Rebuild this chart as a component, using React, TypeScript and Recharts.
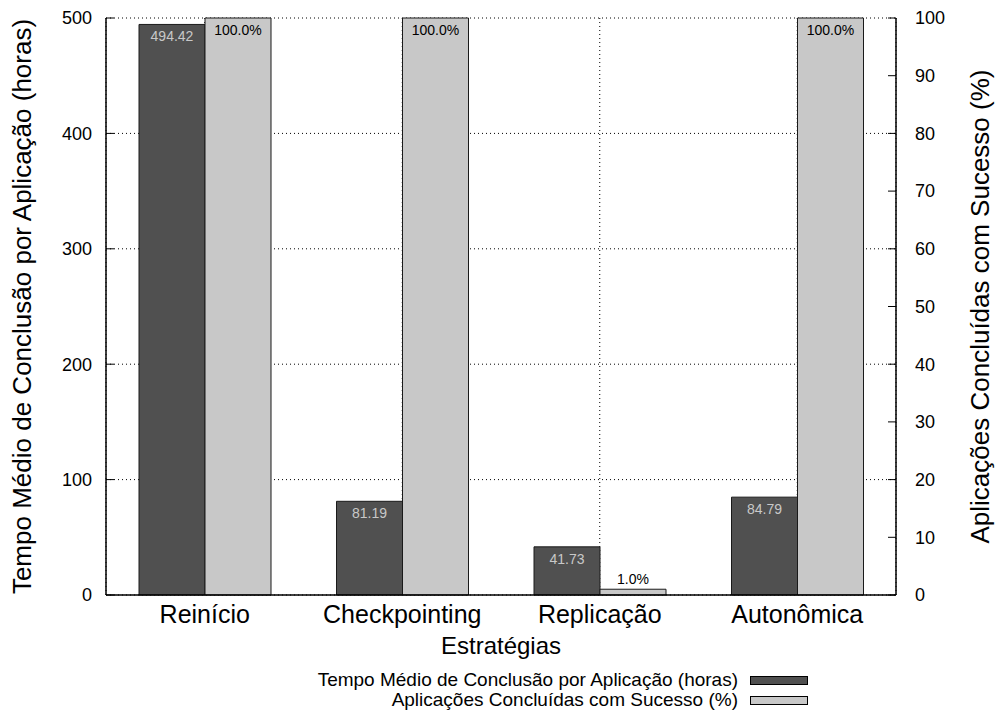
import React from 'react';
import { BarChart, Bar, XAxis, YAxis, CartesianGrid, LabelList } from 'recharts';

const categories = ['Reinício', 'Checkpointing', 'Replicação', 'Autonômica'];
const tempoMedio = [494.42, 81.19, 41.73, 84.79];
const sucesso = [100.0, 100.0, 1.0, 100.0];
const leftTicks = [0, 100, 200, 300, 400, 500];
const rightTicks = [0, 10, 20, 30, 40, 50, 60, 70, 80, 90, 100];

const seriesNames = {
  tempo: 'Tempo Médio de Conclusão por Aplicação (horas)',
  sucesso: 'Aplicações Concluídas com Sucesso (%)',
};
const xTitle = 'Estratégias';

const data = categories.map((name, i) => ({ name, tempo: tempoMedio[i], sucesso: sucesso[i] }));

const FONT = '"Liberation Sans", Arial, Helvetica, sans-serif';
const DARK = '#505050';
const LIGHT = '#c8c8c8';

const DarkLabel = (props: any) => {
  const { x, y, width, value } = props;
  return (
    <text x={x + width / 2} y={y + 12} textAnchor="middle" dominantBaseline="central"
      fontSize={14} fontFamily={FONT} fill="#c8c8c8">
      {Number(value).toFixed(2)}
    </text>
  );
};

const LightLabel = (props: any) => {
  const { x, y, width, value } = props;
  const ty = value >= 50 ? y + 12 : y - 10;
  return (
    <text x={x + width / 2} y={ty} textAnchor="middle" dominantBaseline="central"
      fontSize={14} fontFamily={FONT} fill="#000">
      {Number(value).toFixed(1) + '%'}
    </text>
  );
};

const LeftTitle = (props: any) => {
  const { viewBox } = props;
  const cx = viewBox.x + 22;
  const cy = viewBox.y + viewBox.height / 2;
  return (
    <text x={cx} y={cy} transform={`rotate(-90 ${cx} ${cy})`} textAnchor="middle"
      dominantBaseline="central" fontSize={26} fontFamily={FONT} fill="#000">
      {seriesNames.tempo}
    </text>
  );
};

const RightTitle = (props: any) => {
  const { viewBox } = props;
  const cx = viewBox.x + 84;
  const cy = viewBox.y + viewBox.height / 2;
  return (
    <text x={cx} y={cy} transform={`rotate(-90 ${cx} ${cy})`} textAnchor="middle"
      dominantBaseline="central" fontSize={26} fontFamily={FONT} fill="#000">
      {seriesNames.sucesso}
    </text>
  );
};

const XTitle = (props: any) => {
  const { viewBox } = props;
  const cx = viewBox.x + viewBox.width / 2;
  return (
    <text x={cx} y={viewBox.y + 59} textAnchor="middle" fontSize={24} fontFamily={FONT} fill="#000">
      {xTitle}
    </text>
  );
};

export default function App() {
  return (
    <div style={{ position: 'absolute', left: 0, top: 0, width: 997, height: 711, background: '#fff' }}>
      <BarChart width={997} height={711} data={data}
        margin={{ top: 18, right: 0, bottom: 0, left: 0 }}
        barGap={0} barSize={66}>
        <CartesianGrid yAxisId="left" stroke="#000" strokeWidth={1} strokeDasharray="1 3" />
        <XAxis dataKey="name" xAxisId="bottom" height={116} tickLine={false} tickSize={0} tickMargin={10}
          axisLine={{ stroke: '#000', strokeWidth: 1.5 }}
          tick={{ fontSize: 25, fontFamily: FONT, fill: '#000' }}
          label={<XTitle />} />
        <XAxis dataKey="name" xAxisId="top" orientation="top" height={0} tick={false} tickLine={false}
          axisLine={{ stroke: '#000', strokeWidth: 1.5 }} />
        <YAxis yAxisId="left" width={106} domain={[0, 500]} ticks={leftTicks} interval={0}
          tickSize={-8} tickMargin={22}
          axisLine={{ stroke: '#000', strokeWidth: 1.5 }} tickLine={{ stroke: '#000' }}
          tick={{ fontSize: 18, fontFamily: FONT, fill: '#000' }}
          label={<LeftTitle />} />
        <YAxis yAxisId="right" orientation="right" width={101} domain={[0, 100]} ticks={rightTicks} interval={0}
          tickSize={-8} tickMargin={27}
          axisLine={{ stroke: '#000', strokeWidth: 1.5 }} tickLine={{ stroke: '#000' }}
          tick={{ fontSize: 18, fontFamily: FONT, fill: '#000', textAnchor: 'start' }}
          label={<RightTitle />} />
        <Bar dataKey="tempo" xAxisId="bottom" yAxisId="left" fill={DARK} stroke="#1a1a1a" strokeWidth={1}
          isAnimationActive={false}>
          <LabelList dataKey="tempo" content={<DarkLabel />} />
        </Bar>
        <Bar dataKey="sucesso" xAxisId="bottom" yAxisId="right" fill={LIGHT} stroke="#1a1a1a" strokeWidth={1}
          isAnimationActive={false}>
          <LabelList dataKey="sucesso" content={<LightLabel />} />
        </Bar>
      </BarChart>
      <div style={{ position: 'absolute', right: 189, top: 670, display: 'flex', flexDirection: 'column', alignItems: 'flex-end', fontFamily: FONT }}>
        {[{ name: seriesNames.tempo, color: DARK }, { name: seriesNames.sucesso, color: LIGHT }].map((s) => (
          <div key={s.name} style={{ display: 'flex', alignItems: 'center', height: 20 }}>
            <span style={{ fontSize: 19, lineHeight: '20px', marginRight: 12, color: '#000', whiteSpace: 'nowrap' }}>{s.name}</span>
            <div style={{ width: 56, height: 7, border: '1px solid #000', background: s.color }} />
          </div>
        ))}
      </div>
    </div>
  );
}
